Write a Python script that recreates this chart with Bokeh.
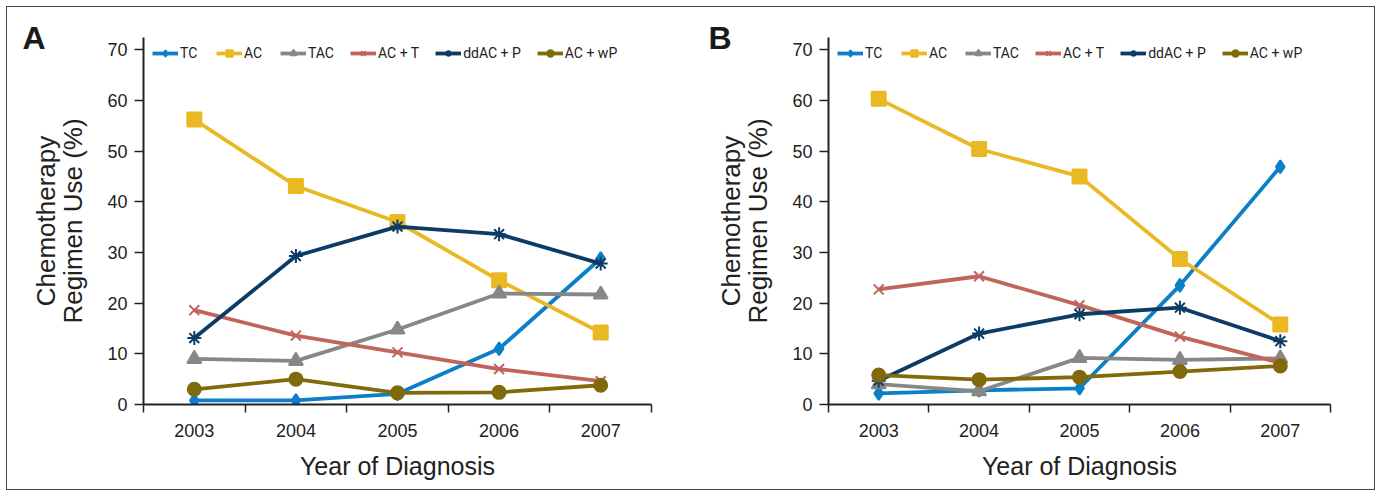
from bokeh.plotting import figure
from bokeh.layouts import row
from bokeh.models import FixedTicker, Legend, LegendItem, LinearAxis
from bokeh.embed import file_html
from bokeh.resources import INLINE

years = ["2003", "2004", "2005", "2006", "2007"]
series_names = ["TC", "AC", "TAC", "AC + T", "ddAC + P", "AC + wP"]

# Panel A values (%)
a_tc = [0.8, 0.8, 2.1, 11.0, 28.8]
a_ac = [56.2, 43.1, 36.0, 24.5, 14.2]
a_tac = [9.0, 8.6, 14.8, 21.9, 21.7]
a_act = [18.6, 13.6, 10.3, 7.0, 4.6]
a_ddacp = [13.1, 29.3, 35.1, 33.6, 27.8]
a_acwp = [3.0, 5.0, 2.3, 2.4, 3.8]

# Panel B values (%)
b_tc = [2.2, 2.8, 3.2, 23.5, 46.9]
b_ac = [60.3, 50.4, 45.0, 28.7, 15.8]
b_tac = [4.0, 2.6, 9.2, 8.8, 9.1]
b_act = [22.7, 25.3, 19.6, 13.4, 8.2]
b_ddacp = [4.7, 14.0, 17.8, 19.1, 12.5]
b_acwp = [5.8, 4.9, 5.4, 6.5, 7.6]

y_ticks = [0, 10, 20, 30, 40, 50, 60, 70]

colors = ["#0b7fc7", "#e9b822", "#878787", "#c0645c", "#0c3c66", "#806a0c"]
markers = ["diamond", "square", "triangle", "x", "asterisk", "circle"]
msizes = [13, 14, 14, 14, 14, 13]

FONT = "Liberation Sans"
LEGFONT = "Roboto"
AXC = "#222222"


def make_panel(letter, data, width, left, right, letter_shift):
    xs = list(range(1, len(years) + 1))
    p = figure(width=width, height=482, output_backend="svg", toolbar_location=None,
               x_range=(0.5, len(years) + 0.5), y_range=(0, 72.4),
               min_border_left=left, min_border_right=right,
               min_border_top=30, min_border_bottom=85)
    p.outline_line_color = None
    p.xgrid.visible = False
    p.ygrid.visible = False
    p.background_fill_color = "white"
    p.border_fill_color = "white"

    items = []
    for name, vals, c, m, s in zip(series_names, data, colors, markers, msizes):
        ln = p.line(xs, vals, line_color=c, line_width=3.8)
        sc = p.scatter(xs, vals, marker=m, size=s, fill_color=c, line_color=c, line_width=2)
        items.append(LegendItem(label=name, renderers=[ln, sc]))

    leg = Legend(items=items, orientation="horizontal", location=(9, 342),
                 border_line_color=None, background_fill_alpha=0,
                 label_text_font=LEGFONT, label_text_font_size="14px", label_text_color=AXC,
                 glyph_width=26, glyph_height=16, label_standoff=2, spacing=16,
                 padding=0, margin=0, label_height=18)
    p.add_layout(leg, "center")

    xa = p.xaxis[0]
    xa.ticker = FixedTicker(ticks=xs, minor_ticks=[i + 0.5 for i in range(0, len(years) + 1)])
    xa.major_label_overrides = {i + 1: y for i, y in enumerate(years)}
    xa.major_tick_out = 0
    xa.major_tick_in = 0
    xa.minor_tick_out = 8
    xa.minor_tick_in = 0
    xa.minor_tick_line_color = AXC
    xa.minor_tick_line_width = 1.5
    xa.axis_line_color = AXC
    xa.axis_line_width = 2
    xa.major_label_text_font = FONT
    xa.major_label_text_font_size = "18px"
    xa.major_label_text_color = AXC
    xa.major_label_standoff = 11
    xa.axis_label = "Year of Diagnosis"
    xa.axis_label_text_font = FONT
    xa.axis_label_text_font_style = "normal"
    xa.axis_label_text_font_size = "25px"
    xa.axis_label_text_color = AXC
    xa.axis_label_standoff = 12

    ya = p.yaxis[0]
    ya.ticker = FixedTicker(ticks=y_ticks)
    ya.minor_tick_line_color = None
    ya.major_tick_out = 9
    ya.major_tick_in = 0
    ya.major_tick_line_color = AXC
    ya.major_tick_line_width = 1.5
    ya.axis_line_color = AXC
    ya.axis_line_width = 2
    ya.major_label_text_font = FONT
    ya.major_label_text_font_size = "18px"
    ya.major_label_text_color = AXC
    ya.major_label_standoff = 7
    ya.axis_label = "Chemotherapy\nRegimen Use (%)"
    ya.axis_label_text_font = FONT
    ya.axis_label_text_font_style = "normal"
    ya.axis_label_text_font_size = "26px"
    ya.axis_label_text_line_height = 0.93
    ya.axis_label_text_color = AXC
    ya.axis_label_standoff = 16

    # panel letter, carried by an outer tick-label-only axis
    la = LinearAxis(ticker=FixedTicker(ticks=[72.35]), major_label_overrides={72.35: letter},
                    axis_line_color=None, major_tick_line_color=None,
                    minor_tick_line_color=None, major_tick_out=0, major_tick_in=0,
                    major_label_standoff=letter_shift,
                    major_label_text_font=FONT, major_label_text_font_style="bold",
                    major_label_text_font_size="32px", major_label_text_color="#1a1a1a")
    p.add_layout(la, "left")
    return p


pa = make_panel("A", [a_tc, a_ac, a_tac, a_act, a_ddacp, a_acwp], 684, 136, 40, -18)
pb = make_panel("B", [b_tc, b_ac, b_tac, b_act, b_ddacp, b_acwp], 683, 137, 44, -19)

layout = row(pa, pb, styles={"border": "1px solid #444444", "margin-left": "6px",
                             "margin-top": "6px"})

open("out.html", "w").write(file_html(layout, INLINE))
